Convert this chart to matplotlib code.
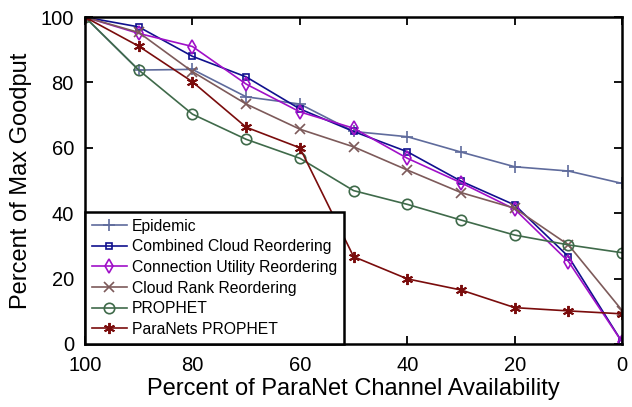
import numpy as np
import matplotlib.pyplot as plt

plt.rcParams['font.family'] = ['Liberation Sans', 'DejaVu Sans']

availability = [100, 90, 80, 70, 60, 50, 40, 30, 20, 10, 0]

epidemic = [100, 83.8, 84.0, 75.6, 73.4, 65.0, 63.4, 58.7, 54.2, 52.9, 49.1]
combined_cloud = [100, 97.0, 88.0, 81.7, 71.9, 65.0, 58.8, 49.8, 42.5, 26.7, 0.5]
connection_utility = [100, 95.0, 91.0, 79.5, 71.0, 66.0, 56.8, 49.3, 41.2, 25.2, 0.5]
cloud_rank = [100, 95.3, 83.3, 73.4, 65.7, 60.3, 53.2, 46.3, 41.5, 30.3, 10.2]
prophet = [100, 83.8, 70.3, 62.6, 56.8, 46.9, 42.7, 37.9, 33.3, 30.3, 27.9]
paranets_prophet = [100, 91.1, 80.2, 66.3, 60.0, 26.7, 19.9, 16.5, 11.1, 10.1, 9.2]

series = [
    ("Epidemic", epidemic, "#5f6b9c", "+", dict(markersize=8, markeredgewidth=1.2)),
    ("Combined Cloud Reordering", combined_cloud, "#10108e", "s",
     dict(markersize=5, markerfacecolor="none", markeredgewidth=1.2)),
    ("Connection Utility Reordering", connection_utility, "#a010c8", "d",
     dict(markersize=7.5, markerfacecolor="none", markeredgewidth=1.2)),
    ("Cloud Rank Reordering", cloud_rank, "#7d5a5a", "x", dict(markersize=6.5, markeredgewidth=1.2)),
    ("PROPHET", prophet, "#3f6a4a", "o",
     dict(markersize=7.5, markerfacecolor="none", markeredgewidth=1.2)),
    ("ParaNets PROPHET", paranets_prophet, "#7a0c0c", (6, 2, 0), dict(markersize=8, markeredgewidth=1.4)),
]

fig = plt.figure(figsize=(6.32, 4.07), dpi=100)
ax = fig.add_axes([0.1345, 0.155, 0.850, 0.803])

for name, vals, color, marker, kw in series:
    ax.plot(availability, vals, color=color, marker=marker, linewidth=1.2, label=name, **kw)

ax.set_xlim(100, 0)
ax.set_ylim(0, 100)
ax.set_xticks([100, 80, 60, 40, 20, 0])
ax.set_yticks([0, 20, 40, 60, 80, 100])
ax.tick_params(which='both', direction='in', top=True, right=True, labelsize=14.5, width=1.3, length=6)
ax.tick_params(axis='x', pad=9)
ax.tick_params(axis='y', pad=8)
for sp in ax.spines.values():
    sp.set_linewidth(1.8)

ax.set_xlabel("Percent of ParaNet Channel Availability", fontsize=17, labelpad=2)
ax.set_ylabel("Percent of Max Goodput", fontsize=17, labelpad=6)

leg = ax.legend(loc='lower left', fontsize=11.3, fancybox=False, framealpha=1,
                edgecolor='black', borderaxespad=0, handlelength=2.2,
                handletextpad=0.35, labelspacing=0.36, borderpad=0.45)
leg.get_frame().set_linewidth(1.8)

fig.savefig("out.png", dpi=100)
